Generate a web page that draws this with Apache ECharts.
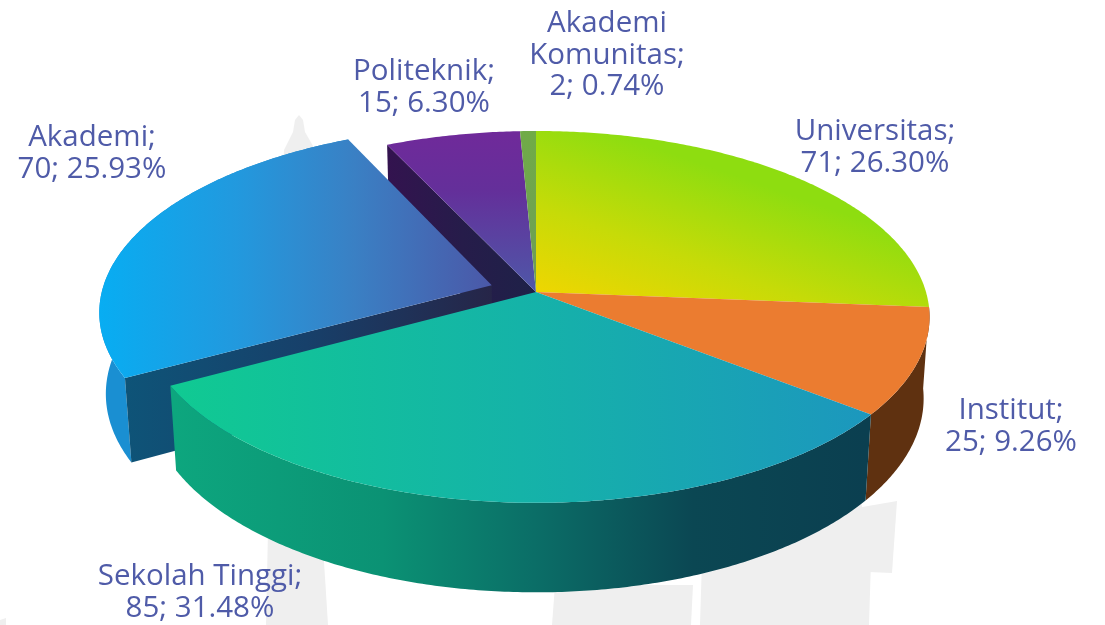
<!DOCTYPE html>
<html>
<head>
<meta charset="utf-8">
<style>html,body{margin:0;padding:0;background:#fff}#c{width:1105px;height:625px}</style>
<script src="https://cdn.jsdelivr.net/npm/echarts@6/dist/echarts.min.js"></script>
</head>
<body>
<div id="c"></div>
<script>
// ---- data ----
const categories = ['Universitas', 'Institut', 'Sekolah Tinggi', 'Akademi', 'Politeknik', 'Akademi Komunitas'];
const values = [71, 25, 85, 70, 15, 2];
const percents = [26.30, 9.26, 31.48, 25.93, 6.30, 0.74];
const labelLines = [
  ['Universitas;', '71; 26.30%'],
  ['Institut;', '25; 9.26%'],
  ['Sekolah Tinggi;', '85; 31.48%'],
  ['Akademi;', '70; 25.93%'],
  ['Politeknik;', '15; 6.30%'],
  ['Akademi', 'Komunitas;', '2; 0.74%']
];

// ---- layout and style ----
const labelAnchors = [[875, 132], [1011, 411], [200, 577], [92, 138], [424, 72], [607, 24]];
const exploded = [0, 0, 0, 0.12, 0, 0];
const paintOrder = [4, 5, 0, 1, 3, 2];
const view = { cx: 536, cy: 292, rx: 390, ry: 182.6, k: 0.134, h: 82, m: 0.015 };

function lin(x, y, x2, y2, stops) {
  return { type: 'linear', global: true, x, y, x2, y2,
    colorStops: stops.map(s => ({ offset: s[0], color: s[1] })) };
}
const topFill = [
  lin(520, 300, 582, 122, [[0, '#F5D500'], [0.5, '#C6DB08'], [1, '#8EDD10']]),
  '#EB7C30',
  lin(170, 0, 872, 0, [[0, '#10CA92'], [0.5, '#15B3A8'], [1, '#1C97BE']]),
  lin(100, 0, 491, 0, [[0, '#08ADF2'], [0.35, '#2299DE'], [0.65, '#3A80C4'], [1, '#4B58A8']]),
  lin(0, 135, 0, 292, [[0, '#6F2A9A'], [0.35, '#642F9A'], [1, '#4E58A8']]),
  lin(0, 132, 0, 292, [[0, '#70AB47'], [1, '#6E9C58']])
];
// only the slices that face the viewer show an outer wall
const wallFill = [
  null,
  '#5F3110',
  lin(175, 0, 866, 0, [[0, '#0DA67E'], [0.3, '#0B9274'], [0.52, '#0B6E67'], [0.75, '#0B4753'], [1, '#0B3F50']]),
  '#1A8FD2',
  null,
  null
];
const cutFill = {
  3: lin(123, 0, 491, 0, [[0, '#0E5478'], [0.5, '#17406A'], [1, '#262548']]), // radial face of Akademi
  4: lin(388, 0, 536, 0, [[0, '#33134F'], [0.5, '#261C4A'], [1, '#1E2148']])  // radial face of Politeknik
};
const watermark = [
  [[268, 530], [322, 530], [328, 625], [266, 625]],
  [[555, 585], [693, 585], [691, 625], [552, 625]],
  [[702, 560], [860, 495], [871, 560], [869, 625], [700, 625]],
  [[845, 510], [897, 501], [892, 573], [845, 571]],
  [[0, 620], [6, 618], [6, 625], [0, 625]],
  [[299, 115], [303, 120], [305, 132], [313, 146], [313, 165], [283, 165], [284, 150], [293, 132], [295, 120]]
];

// ---- projection of the pie disc ----
const total = percents.reduce((a, b) => a + b, 0);
const starts = [];
percents.reduce((acc, p, i) => { starts[i] = acc; return acc + p; }, 0);
const ang = p => p / total * Math.PI * 2;
function project(x, y, z) {
  const d = 1 - view.k * y + view.m * z;
  return [view.cx + view.rx * x / d, view.cy + (view.ry * y + view.h * z) / d];
}
function rim(a0, a1, ex, z) {
  const n = Math.max(4, Math.ceil((a1 - a0) / 0.01));
  const pts = [];
  for (let i = 0; i <= n; i++) {
    const a = a0 + (a1 - a0) * i / n;
    pts.push(project(Math.sin(a) + ex[0], -Math.cos(a) + ex[1], z));
  }
  return pts;
}

function renderSlice(params, api) {
  const i = api.value(0);
  const a0 = ang(starts[i]), a1 = ang(starts[i] + percents[i]);
  const mid = (a0 + a1) / 2;
  const ex = [Math.sin(mid) * exploded[i], -Math.cos(mid) * exploded[i]];
  const top = rim(a0, a1, ex, 0), bottom = rim(a0, a1, ex, 1);
  const apex0 = project(ex[0], ex[1], 0), apex1 = project(ex[0], ex[1], 1);
  const poly = (points, fill) => ({ type: 'polygon', shape: { points },
    style: { fill, stroke: null }, silent: true });
  const children = [];
  if (wallFill[i]) children.push(poly(top.concat(bottom.slice().reverse()), wallFill[i]));
  if (cutFill[i]) children.push(poly([apex0, top[0], bottom[0], apex1], cutFill[i]));
  children.push(poly([apex0].concat(top), topFill[i]));
  return { type: 'group', children };
}

function renderLabel(params, api) {
  const i = api.value(0);
  const lh = 31.5, a = labelAnchors[i];
  return { type: 'group', children: labelLines[i].map((t, j) => ({
    type: 'text', silent: true,
    style: { x: a[0], y: a[1] + j * lh, text: t, fill: '#4F5BA8',
      font: '400 29.5px "Open Sans", sans-serif', align: 'center', verticalAlign: 'middle' }
  })) };
}

const chart = echarts.init(document.getElementById('c'), null, { renderer: 'canvas' });
chart.setOption({
  animation: false,
  backgroundColor: '#fff',
  graphic: { elements: watermark.map(points => ({ type: 'polygon', z: -1, silent: true,
    shape: { points }, style: { fill: '#EFEFEF' } })) },
  series: [
    { type: 'custom', coordinateSystem: 'none', renderItem: renderSlice, z: 2, silent: true,
      data: paintOrder.map(i => [i, values[i], categories[i]]) },
    { type: 'custom', coordinateSystem: 'none', renderItem: renderLabel, z: 3, silent: true,
      data: categories.map((c, i) => [i, values[i], c]) }
  ]
});
</script>
</body>
</html>
